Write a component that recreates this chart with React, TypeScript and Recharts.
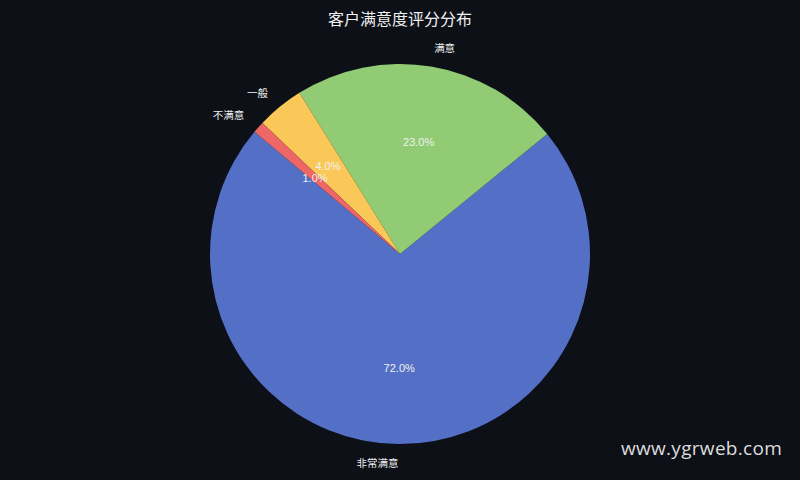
import { PieChart, Pie, Cell } from 'recharts';

const categories = ['非常满意', '满意', '一般', '不满意'];
const shares = [72, 23, 4, 1];
const colors = ['#5470c6', '#91cc75', '#fac858', '#ee6666'];

const data = categories.map((name, i) => ({ name, value: shares[i] }));

const BG = '#0d1017';
const RAD = Math.PI / 180;

function renderLabel({ cx, cy, midAngle, outerRadius, percent, name }: any) {
  const cos = Math.cos(-midAngle * RAD);
  const sin = Math.sin(-midAngle * RAD);
  const ox = cx + outerRadius * 1.1 * cos;
  const oy = cy + outerRadius * 1.1 * sin;
  const px = cx + outerRadius * 0.6 * cos;
  const py = cy + outerRadius * 0.6 * sin;
  return (
    <g>
      <text x={ox} y={oy} fill="#f0f0f0" fontSize={10.5} fontFamily="'Noto Sans CJK SC', sans-serif"
        textAnchor={cos >= 0 ? 'start' : 'end'} dominantBaseline="central">
        {name}
      </text>
      <text x={px} y={py} fill="#f0f0f0" fontSize={11} fontFamily="'Liberation Sans', Arial, sans-serif"
        textAnchor="middle" dominantBaseline="central">
        {(percent * 100).toFixed(1)}%
      </text>
    </g>
  );
}

export default function App() {
  return (
    <div style={{ position: 'fixed', top: 0, left: 0, width: 800, height: 480, background: BG, overflow: 'hidden' }}>
      <div style={{
        position: 'absolute', top: 7, left: 0, width: 800, textAlign: 'center',
        color: '#f0f0f0', fontSize: 16, fontFamily: "'Noto Sans CJK SC', sans-serif", lineHeight: '22px',
      }}>
        客户满意度评分分布
      </div>
      <PieChart width={800} height={480} margin={{ top: 0, right: 0, bottom: 0, left: 0 }}>
        <Pie
          data={data}
          dataKey="value"
          nameKey="name"
          cx={400}
          cy={254}
          outerRadius={190}
          startAngle={140}
          endAngle={500}
          stroke="none"
          labelLine={false}
          label={renderLabel}
          isAnimationActive={false}
        >
          {data.map((d, i) => <Cell key={d.name} fill={colors[i]} />)}
        </Pie>
      </PieChart>
      <div style={{
        position: 'absolute', left: 621, top: 435, color: '#dcdcdc', fontSize: 19,
        fontFamily: "'Open Sans', sans-serif", letterSpacing: 0.3,
      }}>
        www.ygrweb.com
      </div>
    </div>
  );
}
